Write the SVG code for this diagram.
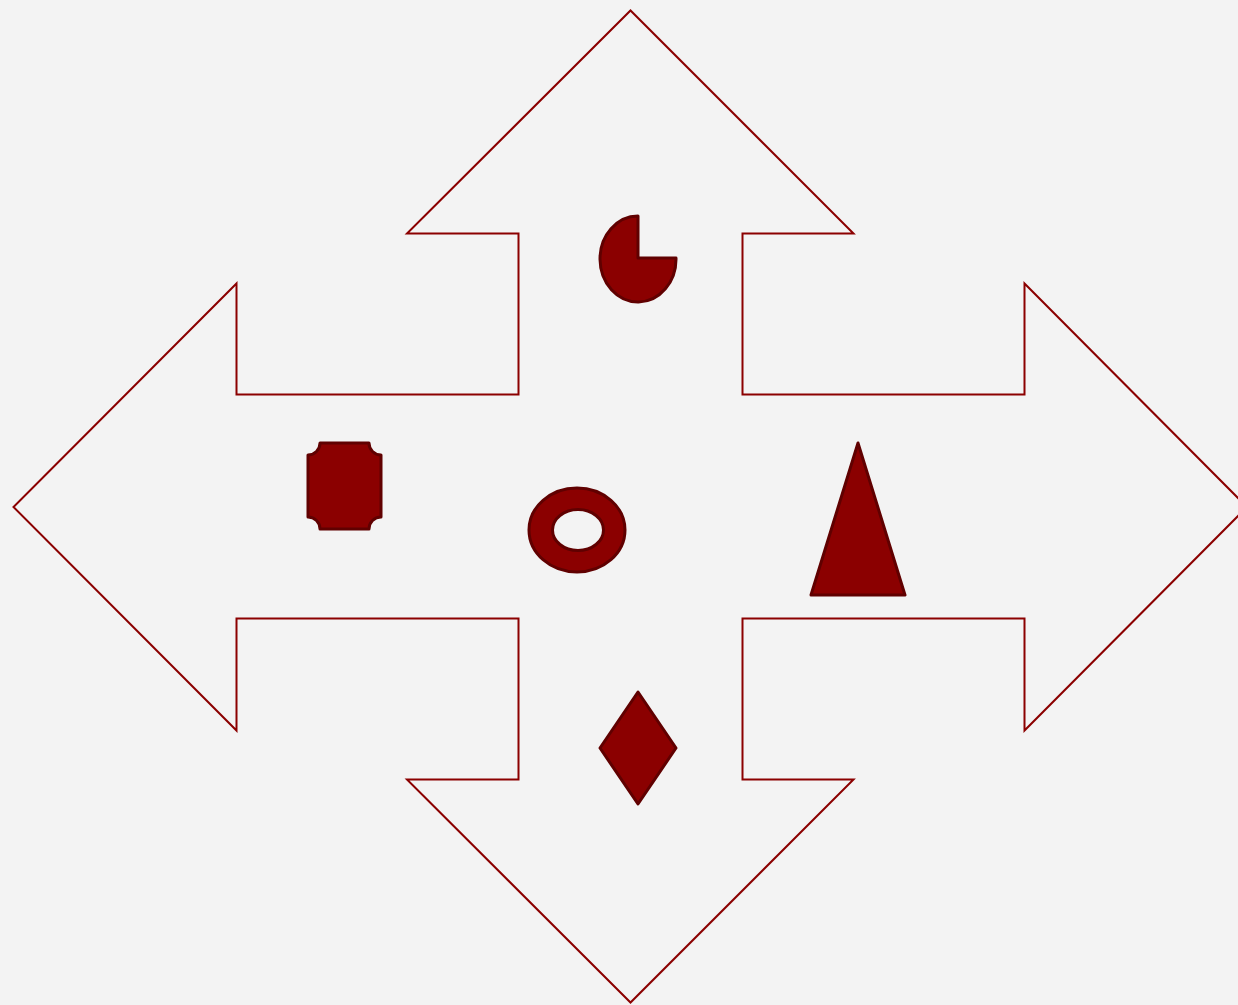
<svg xmlns="http://www.w3.org/2000/svg" width="1238" height="1005" viewBox="0 0 1238 1005">
<style>
.outline{fill:none;stroke:#8b0000;stroke-width:2;stroke-linejoin:miter}
.shape{fill:#8b0000;stroke:#600000;stroke-width:3;stroke-linejoin:round;fill-rule:evenodd}
</style>
<rect width="1238" height="1005" fill="#f3f3f3"/>
<g id="cross-arrow">
<path class="outline" d="M518.5,233.5 L518.5,394.5 L236.5,394.5 L236.5,283.5 L13.5,507 L236.5,730.5 L236.5,618.5 L518.5,618.5 L518.5,779.5 L407,779.5 L630.5,1002.5 L853.5,779.5 L742.5,779.5 L742.5,618.5 L1024.5,618.5 L1024.5,730.5 L1247,507 L1024.5,283.5 L1024.5,394.5 L742.5,394.5 L742.5,233.5 L853.5,233.5 L630.5,10.5 L407,233.5 Z"/>
</g>
<g id="pie">
<path class="shape" d="M638,258 L638,216 A38,43 0 1,0 676,258 Z"/>
</g>
<g id="plaque">
<path class="shape" d="M320,443 H369 A12,12 0 0,0 381,455 V517 A12,12 0 0,0 369,529 H320 A12,12 0 0,0 308,517 V455 A12,12 0 0,0 320,443 Z"/>
</g>
<g id="ring">
<path class="shape" d="M529,530 A48,42 0 1,0 625,530 A48,42 0 1,0 529,530 Z M552.5,530 A25.5,20.5 0 1,0 603.5,530 A25.5,20.5 0 1,0 552.5,530 Z"/>
</g>
<g id="triangle">
<path class="shape" d="M858,443 L905,595 L811,595 Z"/>
</g>
<g id="diamond">
<path class="shape" d="M638,692 L676,748 L638,804 L600,748 Z"/>
</g>
</svg>
